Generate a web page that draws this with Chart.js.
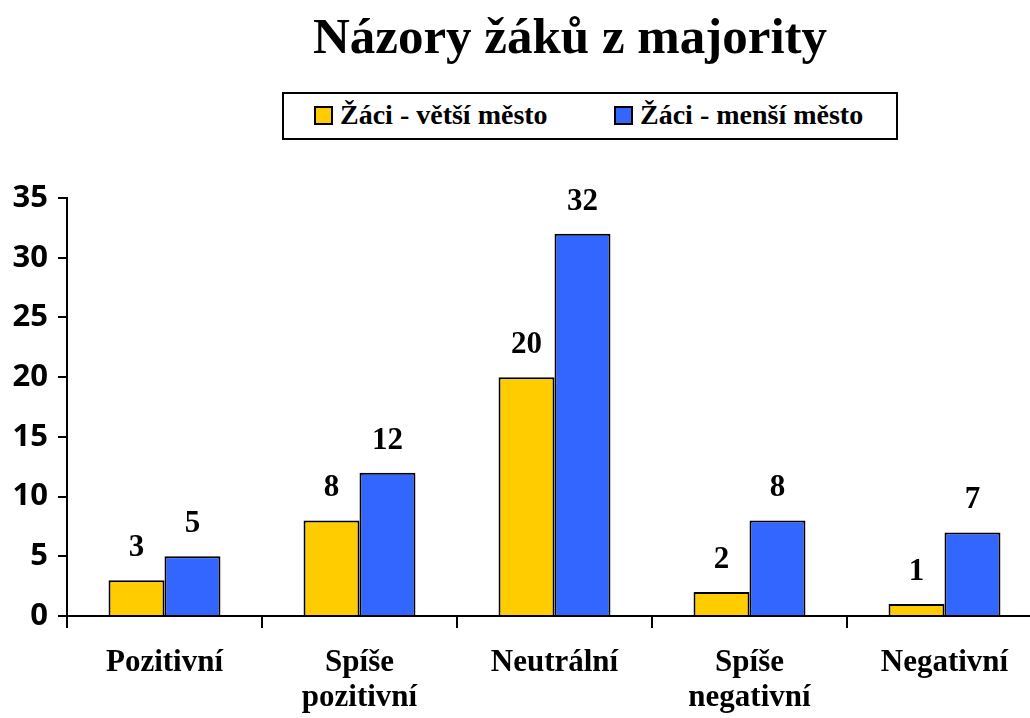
<!DOCTYPE html>
<html>
<head>
<meta charset="utf-8">
<script src="https://cdn.jsdelivr.net/npm/chart.js@4/dist/chart.umd.min.js"></script>
<style>
  html, body { margin: 0; padding: 0; background: #fff; width: 1030px; height: 718px; overflow: hidden; }
  #wrap { position: relative; width: 1030px; height: 718px; overflow: hidden; }
  #c { position: absolute; left: 0; top: 0; }
  #title { position: absolute; left: 0; top: 11px; width: 1140px; text-align: center;
           font-family: "Liberation Serif", "Times New Roman", serif; font-weight: bold;
           font-size: 51px; line-height: 50px; color: #000; }
  #legend { position: absolute; left: 282px; top: 92px; width: 612px; height: 44px;
            border: 2px solid #000; background: #fff; }
  .sw { position: absolute; top: 12px; width: 15px; height: 15px; border: 2px solid #000; }
  .lt { position: absolute; top: 0; height: 44px; line-height: 42px;
        font-family: "Liberation Serif", "Times New Roman", serif; font-weight: bold;
        font-size: 28px; color: #000; white-space: nowrap; }
</style>
</head>
<body>
<div id="wrap">
  <canvas id="c" width="1050" height="718"></canvas>
  <div id="title">Názory žáků z majority</div>
  <div id="legend">
    <div class="sw" style="left:30px;background:#FFCC00"></div>
    <span class="lt" style="left:56px">Žáci - větší město</span>
    <div class="sw" style="left:330px;background:#3366FF"></div>
    <span class="lt" style="left:356px">Žáci - menší město</span>
  </div>
</div>
<script>
const categories = [['Pozitivní'], ['Spíše', 'pozitivní'], ['Neutrální'], ['Spíše', 'negativní'], ['Negativní']];
const seriesNames = ['Žáci - větší město', 'Žáci - menší město'];
const vetsiMesto = [3, 8, 20, 2, 1];
const mensiMesto = [5, 12, 32, 8, 7];
const yTicks = [0, 5, 10, 15, 20, 25, 30, 35];

const dataLabels = {
  id: 'dataLabels',
  afterDatasetsDraw(chart) {
    const ctx = chart.ctx;
    ctx.save();
    ctx.font = 'bold 31px "Liberation Serif", "Times New Roman", serif';
    ctx.fillStyle = '#000';
    ctx.textAlign = 'center';
    ctx.textBaseline = 'middle';
    chart.data.datasets.forEach((ds, i) => {
      chart.getDatasetMeta(i).data.forEach((el, j) => {
        ctx.fillText(String(ds.data[j]), el.x, el.y - 32);
      });
    });
    ctx.restore();
  }
};

new Chart(document.getElementById('c'), {
  type: 'bar',
  data: {
    labels: categories,
    datasets: [
      { label: seriesNames[0], data: vetsiMesto, backgroundColor: '#FFCC00', borderColor: '#000', borderWidth: 2,
        categoryPercentage: 0.574, barPercentage: 1.0 },
      { label: seriesNames[1], data: mensiMesto, backgroundColor: '#3366FF', borderColor: '#000', borderWidth: 2,
        categoryPercentage: 0.574, barPercentage: 1.0 }
    ]
  },
  options: {
    responsive: false,
    animation: false,
    devicePixelRatio: 1,
    layout: { padding: { left: 0, right: 8, top: 198, bottom: 0 } },
    plugins: { legend: { display: false }, title: { display: false }, tooltip: { enabled: false } },
    scales: {
      x: {
        afterFit(s) { s.height = 102; },
        grid: { display: true, drawOnChartArea: false, drawTicks: true, tickLength: 12, color: '#000', lineWidth: 2 },
        border: { display: true, color: '#000', width: 2 },
        ticks: { color: '#000', padding: 17, maxRotation: 0, autoSkip: false,
                 font: { family: '"Liberation Serif", "Times New Roman", serif', size: 31, weight: 'bold', lineHeight: 1.13 } }
      },
      y: {
        min: 0, max: 35,
        afterFit(s) { s.width = 67; },
        afterBuildTicks(s) { s.ticks = yTicks.map(v => ({ value: v })); },
        grid: { display: true, drawOnChartArea: false, drawTicks: true, tickLength: 9, color: '#000', lineWidth: 2 },
        border: { display: true, color: '#000', width: 2 },
        ticks: { color: '#000', padding: 10,
                 font: { family: '"Open Sans", "Liberation Sans", sans-serif', size: 31, weight: 'bold' } }
      }
    }
  },
  plugins: [dataLabels]
});
</script>
</body>
</html>
